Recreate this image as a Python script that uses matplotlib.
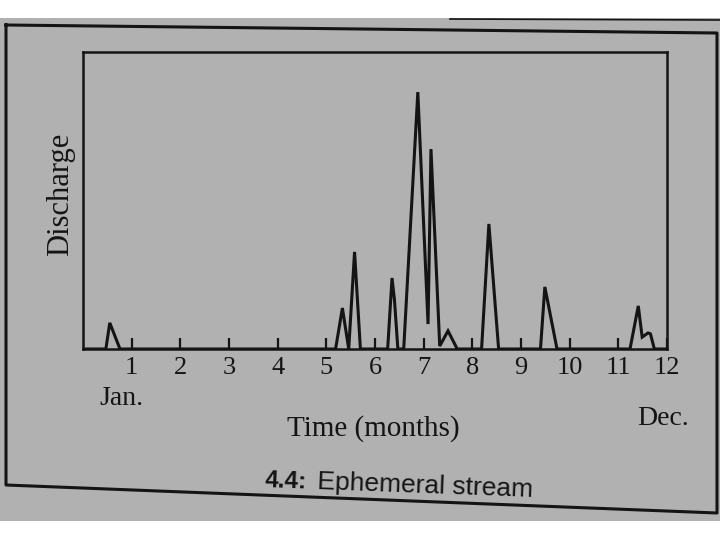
import matplotlib.pyplot as plt
from matplotlib.lines import Line2D
from matplotlib.patches import Rectangle

# hydrograph of an ephemeral stream
# month (0 = start of Jan, 12 = end of Dec) and relative discharge (axes top = 100)
months = [0, 0.47, 0.55, 0.76,
          5.19, 5.33, 5.46, 5.58, 5.70,
          6.26, 6.35, 6.40, 6.47,
          6.59, 6.88, 7.09, 7.15, 7.33, 7.50, 7.69,
          8.19, 8.34, 8.54,
          9.40, 9.49, 9.74,
          11.24, 11.41, 11.49, 11.61, 11.66, 11.74, 12]
discharge = [0, 0, 8.8, 0,
             0, 13.8, 0, 32.7, 0,
             0, 23.9, 16.5, 0,
             0, 86.5, 8.4, 67.3, 1.0, 6.1, 0,
             0, 42.1, 0,
             0, 20.9, 0,
             0, 14.5, 4.0, 5.4, 5.1, 0, 0]

tick_months = list(range(1, 13))
tick_labels = [str(m) for m in tick_months]

paper = '#b1b1b1'
ink = '#141414'

fig = plt.figure(figsize=(7.2, 5.4), dpi=100, facecolor='white')
W, H = 720, 540

def fx(px):
    return px / W

def fy(py):
    return 1 - py / H

# grey page of the photo (behind everything)
fig.patches.append(Rectangle((0, fy(521)), 1, fy(18) - fy(521),
                             transform=fig.transFigure, facecolor=paper,
                             edgecolor='none', zorder=-10))

# outer frame round the figure
frame = [(6, 25), (717, 33), (717, 513), (6, 485), (6, 25)]
fig.lines.append(Line2D([fx(p[0]) for p in frame], [fy(p[1]) for p in frame],
                        transform=fig.transFigure, color=ink, lw=2.2, zorder=-5))
fig.lines.append(Line2D([fx(450), fx(720)], [fy(19), fy(20)],
                        transform=fig.transFigure, color=ink, lw=1.2, zorder=-5))

ax = fig.add_axes([fx(83), fy(349), fx(667) - fx(83), fy(52) - fy(349)])
ax.set_facecolor(paper)
ax.plot(months, discharge, color=ink, lw=2.2, solid_joinstyle='miter')

ax.set_xlim(0, 12)
ax.set_ylim(0, 100)
ax.set_yticks([])
ax.set_xticks(tick_months)
ax.set_xticklabels(tick_labels, family='Liberation Serif', fontsize=19, color=ink)
ax.tick_params(axis='x', direction='in', length=8, width=1.6, color=ink, pad=6)
for s in ax.spines.values():
    s.set_color(ink)
    s.set_linewidth(1.8)

ax.set_xlabel('Time (months)', family='Liberation Serif', fontsize=21, color=ink)
ax.xaxis.set_label_coords(0.497, -0.222)
ax.set_ylabel('Discharge', family='Liberation Serif', fontsize=22, color=ink)
ax.yaxis.set_label_coords(-0.014, 0.52)

ax.text(0.065, -0.168, 'Jan.', transform=ax.transAxes, ha='center', va='center',
        family='Liberation Serif', fontsize=20, color=ink)
ax.text(0.993, -0.235, 'Dec.', transform=ax.transAxes, ha='center', va='center',
        family='Liberation Serif', fontsize=20, color=ink)

# caption, a bit tilted like the photo
fig.text(fx(265), fy(487), '4.4:', family='Liberation Sans', fontweight='bold',
         fontsize=17.5, color=ink, ha='left', va='baseline', rotation=-2.1,
         rotation_mode='anchor')
fig.text(fx(317), fy(489), 'Ephemeral stream', family='Liberation Sans',
         fontsize=19, color=ink, ha='left', va='baseline', rotation=-2.1,
         rotation_mode='anchor')

fig.savefig('out.png', dpi=100, facecolor=fig.get_facecolor())
